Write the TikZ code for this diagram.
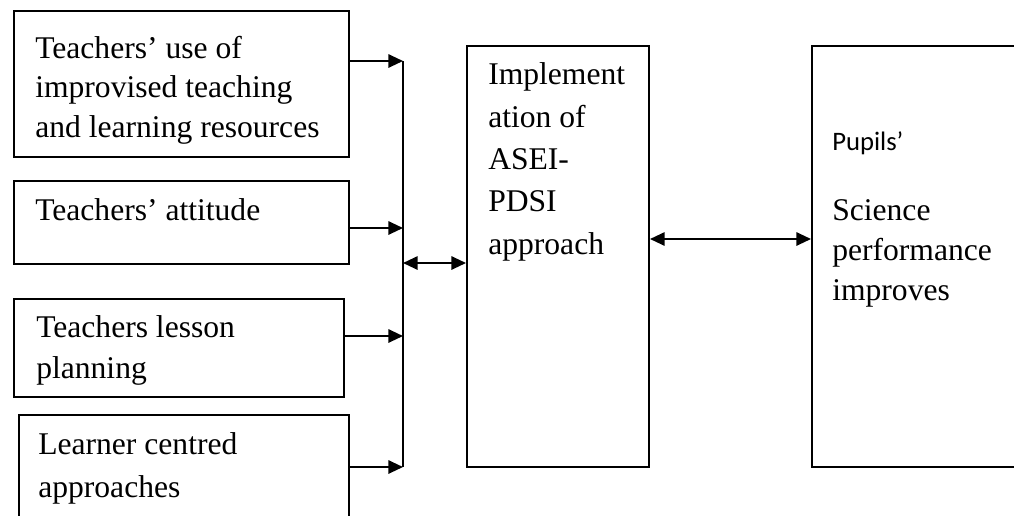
\documentclass[tikz,border=0pt]{standalone}
\usepackage{fontspec}
\setmainfont{Liberation Serif}
\newfontfamily\calibrifont{Carlito}
\usetikzlibrary{arrows.meta}

\begin{document}
\begin{tikzpicture}
[
x=0.75pt, y=-0.75pt,
Box/.style={rectangle, draw=black, line width=1.5pt, anchor=north west, inner sep=0pt},
Label/.style={anchor=base west, align=left, inner sep=0pt, font=\fontsize{23.7}{29.3}\selectfont},
Bus/.style={draw=black, line width=1.5pt},
Arrow/.style={-{Triangle[length=11pt,width=10pt]}, line width=1.5pt},
BiArrow/.style={{Triangle[length=11pt,width=10pt]}-{Triangle[length=11pt,width=10pt]}, line width=1.5pt},
]

\useasboundingbox (0,0) rectangle (1014,515);

% boxes
\node[Box, minimum width=251.25pt, minimum height=109.5pt] (use) at (13,10) {};
\node[Box, minimum width=251.25pt, minimum height=62.25pt] (attitude) at (13,180) {};
\node[Box, minimum width=247.5pt, minimum height=73.5pt] (lesson) at (13,298) {};
\node[Box, minimum width=247.5pt, minimum height=97.5pt] (learner) at (18,414) {};
\node[Box, minimum width=136.5pt, minimum height=315.75pt] (asei) at (466,45) {};
\node[Box, minimum width=195pt, minimum height=315.75pt] (pupils) at (811,45) {};

% texts (placed at the baseline of their last line)
\node[Label] (useText) at (35,137) {Teachers’ use of\\improvised teaching\\and learning resources};
\node[Label] (attitudeText) at (35,220) {Teachers’ attitude};
\begin{scope}
\clip (13,298) rectangle (343,384);
\node[Label, font=\fontsize{23.7}{30.75}\selectfont] (lessonText) at (36,378) {Teachers lesson\\planning};
\end{scope}
\node[Label, font=\fontsize{23.7}{32.25}\selectfont] (learnerText) at (38,497) {Learner centred\\approaches};
\node[Label, font=\fontsize{23.7}{31.7}\selectfont] (aseiText) at (488,254) {Implement\\ation of\\ASEI-\\PDSI\\approach};
\node[Label, font=\calibrifont\fontsize{20}{30}\selectfont] (pupilsHead) at (832,150) {Pupils’};
\node[Label, font=\fontsize{23.7}{30}\selectfont] (pupilsText) at (832,300) {Science\\performance\\improves};

% bus line and arrows
\coordinate (b1) at (403,61);
\coordinate (b2) at (403,228);
\coordinate (b3) at (403,336);
\coordinate (b4) at (403,467);
\coordinate (bmid) at (403,263);
\coordinate (link) at (700,239);

\draw[Bus] (b1) -- (b4);
\draw[Arrow] (use.east |- b1) -- (b1);
\draw[Arrow] (attitude.east |- b2) -- (b2);
\draw[Arrow] (lesson.east |- b3) -- (b3);
\draw[Arrow] (learner.east |- b4) -- (b4);
\draw[BiArrow] (bmid) -- (asei.west |- bmid);
\draw[BiArrow] (asei.east |- link) -- (pupils.west |- link);

\end{tikzpicture}
\end{document}
